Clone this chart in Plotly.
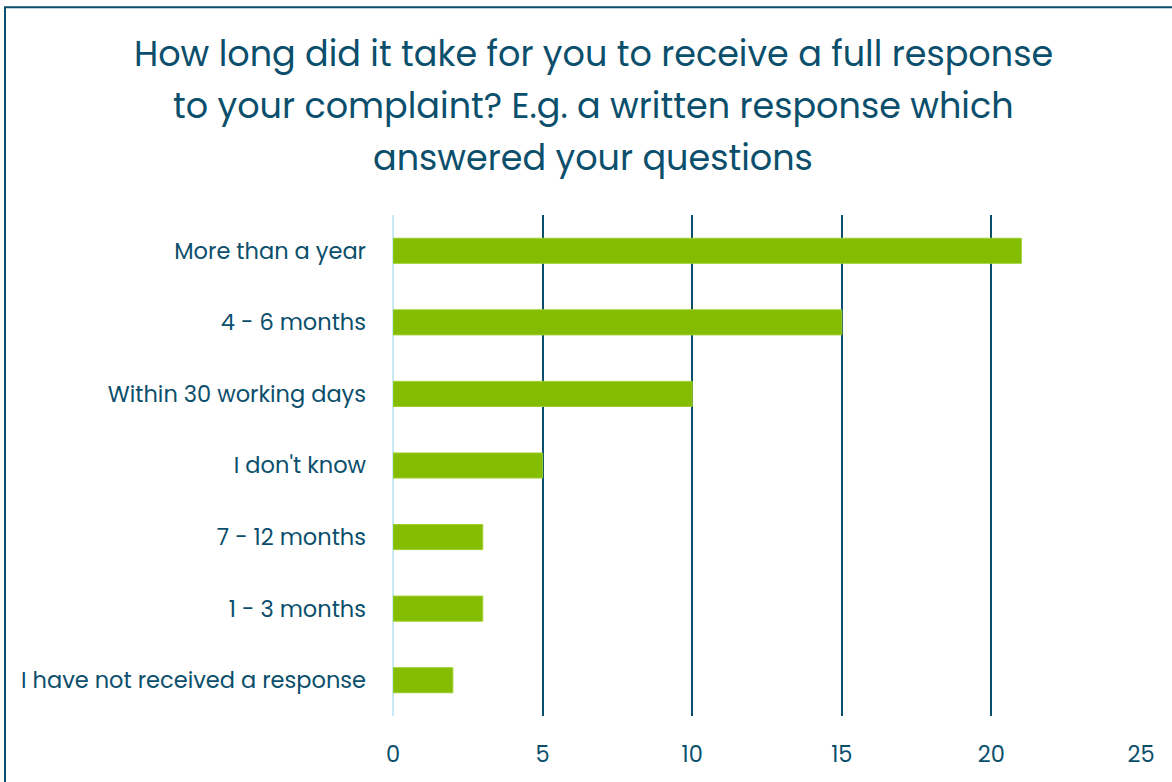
import plotly.graph_objects as go

# Survey responses, listed bottom-to-top as drawn
categories = [
    "I have not received a response",
    "1 - 3 months",
    "7 - 12 months",
    "I don't know",
    "Within 30 working days",
    "4 - 6 months",
    "More than a year",
]
counts = [2, 3, 3, 5, 10, 15, 21]
x_ticks = [0, 5, 10, 15, 20, 25]

title_lines = [
    "How long did it take for you to receive a full response",
    "to your complaint? E.g. a written response which",
    "answered your questions",
]

TEAL = "#0b4f6c"
GREEN = "#84bc00"
FONT = "Poppins, Inter, 'Open Sans', sans-serif"

W, H = 1172, 782
L, R, T, B = 393, 31, 215, 63
pw, ph = W - L - R, H - T - B


def px_x(px):
    return (px - L) / pw


def px_y(py):
    return (H - B - py) / ph


fig = go.Figure(
    go.Bar(
        x=counts,
        y=categories,
        orientation="h",
        width=0.35,
        marker=dict(color=GREEN, line=dict(color="#9ccf2a", width=1)),
        hoverinfo="x+y",
    )
)

# Three-line heading, one annotation per line for even spacing
title_annotations = [
    dict(
        text=line,
        xref="paper",
        yref="paper",
        x=px_x(593),
        y=px_y(53 + 52 * i),
        xanchor="center",
        yanchor="middle",
        showarrow=False,
        font=dict(size=35, color=TEAL, family=FONT),
    )
    for i, line in enumerate(title_lines)
]

fig.update_layout(
    width=W,
    height=H,
    margin=dict(l=L, r=R, t=T, b=B),
    paper_bgcolor="white",
    plot_bgcolor="white",
    showlegend=False,
    font=dict(family=FONT, color=TEAL),
    annotations=title_annotations,
    xaxis=dict(
        range=[0, 25],
        tickvals=x_ticks,
        showgrid=True,
        gridcolor=TEAL,
        gridwidth=2,
        zeroline=True,
        zerolinecolor="#c8eaf8",
        zerolinewidth=2,
        showline=False,
        ticks="",
        ticklabelstandoff=22,
        tickfont=dict(size=22.5, color=TEAL),
        fixedrange=True,
    ),
    yaxis=dict(
        categoryorder="array",
        categoryarray=categories,
        range=[-0.5, len(categories) - 0.5],
        showgrid=False,
        showline=False,
        ticks="",
        ticklabelstandoff=26,
        tickfont=dict(size=22.5, color=TEAL),
        fixedrange=True,
    ),
    shapes=[
        # outer frame of the chart panel
        dict(
            type="rect",
            xref="paper",
            yref="paper",
            x0=px_x(5),
            x1=px_x(W + 20),
            y0=px_y(H + 20),
            y1=px_y(6),
            line=dict(color=TEAL, width=2),
            fillcolor="rgba(0,0,0,0)",
            layer="above",
        )
    ],
)

fig.write_html("out.html")
